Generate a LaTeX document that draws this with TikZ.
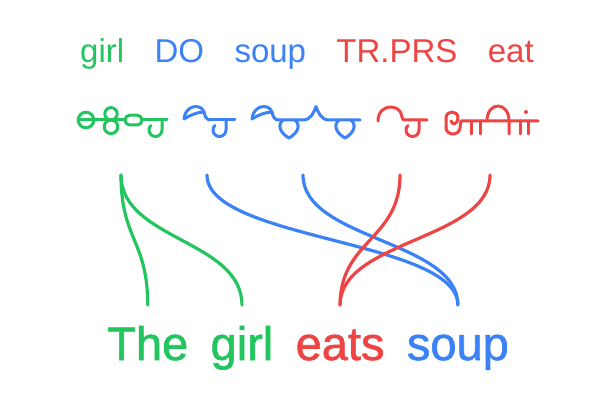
\documentclass[tikz,border=0pt]{standalone}
\usepackage{fontspec}
\setmainfont{Liberation Sans}
\newfontfamily\wordfont[FakeBold=1.3]{Liberation Sans}
\usetikzlibrary{positioning}

\definecolor{grn}{HTML}{22C55E}
\definecolor{blu}{HTML}{3B82F6}
\definecolor{rd}{HTML}{EF4444}

\tikzset{
	gloss/.style={font=\fontsize{33}{36}\selectfont, inner sep=0pt},
	word/.style={font=\wordfont\fontsize{47}{50}\selectfont, inner sep=0pt},
	glyph/.style={line width=3pt, line cap=round, line join=round},
	link/.style={line width=3.2pt, line cap=round},
	% pieces of the script
	leafloop/.pic={
		\draw (0,-1) .. controls (1,-15) and (17,-17) .. (20,-8)
		.. controls (21,-3) and (23,0) .. (26,0);
		\draw (0,-1) .. controls (6,-5) and (14,-8) .. (20,-8);
	},
	hookloop/.pic={
		\draw (0,0) -- (0,10) .. controls (0,13.6) and (-2.9,16.5) .. (-6.5,16.5)
		.. controls (-10.1,16.5) and (-13,13.6) .. (-13,10)
		.. controls (-13,8) and (-12.3,6.5) .. (-11,5.5);
	},
	droploop/.pic={
		\draw (3,0) .. controls (-3,5) and (0,13) .. (9,18)
		.. controls (18,13) and (21,5) .. (15,0);
	},
}

\begin{document}
\begin{tikzpicture}[x=1pt,y=-1pt]
	\useasboundingbox (0,0) rectangle (608,401);
	
	% glosses on top
	\node[gloss, text=grn, anchor=base west] (gGirl) at (80,63) {girl};
	\node[gloss, text=blu, base right=30pt of gGirl] (gDo) {DO};
	\node[gloss, text=blu, base right=30pt of gDo] (gSoup) {soup};
	\node[gloss, text=rd, base right=30pt of gSoup] (gTr) {TR.PRS};
	\node[gloss, text=rd, base right=30pt of gTr] (gEat) {eat};
	
	% girl
	\begin{scope}[glyph, grn]
		\draw (86,120) circle (7.8pt);
		\draw (78,120) -- (125,120);
		\draw (111,113.8) circle (6.2pt);
		\draw (111,126.8) circle (6.8pt);
		\draw[rounded corners=4.8pt] (125,115.2) rectangle (142,125);
		\draw (142,120) -- (167,120);
		\pic at (162,120) {hookloop};
	\end{scope}
	
	% DO
	\begin{scope}[glyph, blu]
		\pic at (184,120) {leafloop};
		\draw (210,120) -- (235,120);
		\pic at (226,120) {hookloop};
	\end{scope}
	
	% soup
	\begin{scope}[glyph, blu]
		\pic at (252,120) {leafloop};
		\draw (278,120) -- (303,120) .. controls (311,120) and (314,112) .. (316,106.5)
		.. controls (318,112) and (321,120) .. (329,120) -- (360,120);
		\pic at (280,120) {droploop};
		\pic at (336,120) {droploop};
	\end{scope}
	
	% TR.PRS
	\begin{scope}[glyph, rd]
		\draw (378,121) .. controls (378,103) and (401,103) .. (402,117)
		.. controls (402.5,119.5) .. (405,120) -- (427,120);
		\pic at (419,120) {hookloop};
	\end{scope}
	
	% eat
	\begin{scope}[glyph, rd]
		\draw (446,128) -- (446,118) .. controls (446,110) and (458,110) .. (458,118)
		.. controls (458,124) and (452,126) .. (451,121);
		\draw (446,128) .. controls (447,136) and (459,136) .. (460,128) -- (461,121) -- (538,121);
		\draw (471,121) -- (471,134) (480,121) -- (480,134);
		\draw (487,121) .. controls (487,101) and (509,101) .. (509,121) -- (509,134);
		\draw (520,121) -- (520,134) (528,121) -- (528,134);
		\fill (526,112) circle (2pt);
	\end{scope}
	
	% English words
	\node[word, text=grn, anchor=base west] (wThe) at (107,360) {The};
	\node[word, text=grn, base right=22pt of wThe] (wGirl) {girl};
	\node[word, text=rd, base right=22pt of wGirl] (wEats) {eats};
	\node[word, text=blu, base right=22pt of wEats] (wSoup) {soup};
	
	% ends of the links
	\coordinate (cGirl) at (121,175);
	\coordinate (cDo) at (207,175);
	\coordinate (cSoup) at (303,175);
	\coordinate (cTr) at (400,175);
	\coordinate (cEat) at (490,175);
	\coordinate (eThe) at ([yshift=55pt]wThe.base);
	\coordinate (eGirl) at ([yshift=55pt]wGirl.base);
	\coordinate (eEats) at ([yshift=55pt]wEats.base);
	\coordinate (eSoup) at ([yshift=55pt]wSoup.base);
	
	% links
	\draw[link, grn] (cGirl) .. controls +(0,65) and +(0,-65) .. (eThe);
	\draw[link, grn] (cGirl) .. controls +(0,65) and +(0,-65) .. (eGirl);
	\draw[link, blu] (cDo) .. controls +(0,65) and +(0,-65) .. (eSoup);
	\draw[link, blu] (cSoup) .. controls +(0,65) and +(0,-65) .. (eSoup);
	\draw[link, rd] (cTr) .. controls +(0,65) and +(0,-65) .. (eEats);
	\draw[link, rd] (cEat) .. controls +(0,65) and +(0,-65) .. (eEats);
\end{tikzpicture}
\end{document}
